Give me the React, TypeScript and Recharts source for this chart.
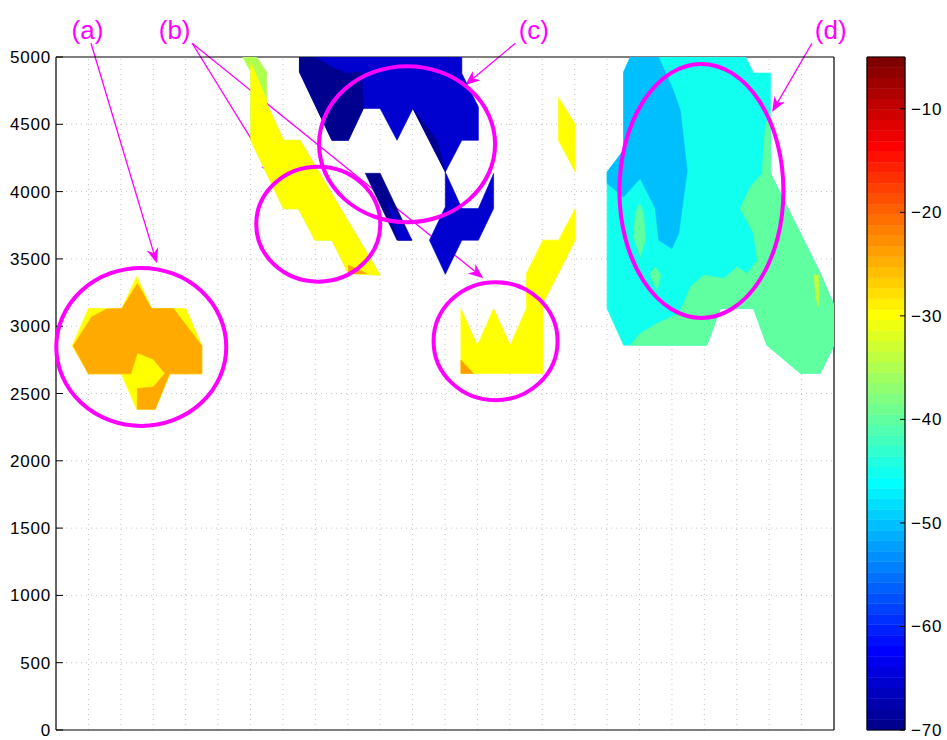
import React from 'react';
import { ComposedChart, Scatter, XAxis, YAxis, ReferenceLine, ReferenceDot, ReferenceArea } from 'recharts';

type Pt = { x: number; y: number };

const xTicks = [0, 1, 2, 3, 4, 5, 6, 7, 8, 9, 10, 11, 12, 13, 14, 15, 16, 17, 18, 19, 20, 21, 22, 23, 24];
const yTicks = [0, 500, 1000, 1500, 2000, 2500, 3000, 3500, 4000, 4500, 5000];
const cbarTicks = [-70, -60, -50, -40, -30, -20, -10];
const cbarMin = -70;
const cbarMax = -5;
const cbarLevels = 64;
const cbarCorners: Pt[] = [
  { x: 0, y: -70 },
  { x: 1, y: -5 },
];

// (a) blob
const aYellow: Pt[] = [
  { x: 2.49, y: 3371 }, { x: 2.95, y: 3131 }, { x: 4.01, y: 3131 }, { x: 4.5, y: 2854 }, { x: 4.5, y: 2646 },
  { x: 3.52, y: 2646 }, { x: 3.06, y: 2383 }, { x: 2.49, y: 2383 }, { x: 2.01, y: 2646 }, { x: 1.0, y: 2646 },
  { x: 0.5, y: 2854 }, { x: 1.0, y: 3131 }, { x: 2.03, y: 3131 },
];
const aOrange: Pt[] = [
  { x: 2.51, y: 3317 }, { x: 2.95, y: 3131 }, { x: 3.62, y: 3131 }, { x: 4.5, y: 2854 }, { x: 4.5, y: 2646 },
  { x: 3.5, y: 2646 }, { x: 3.06, y: 2383 }, { x: 2.51, y: 2383 }, { x: 2.51, y: 2537 }, { x: 3.0, y: 2549 },
  { x: 3.36, y: 2649 }, { x: 3.0, y: 2755 }, { x: 2.51, y: 2802 }, { x: 2.31, y: 2646 }, { x: 1.0, y: 2646 },
  { x: 0.53, y: 2854 }, { x: 1.1, y: 3069 }, { x: 1.56, y: 3128 }, { x: 2.03, y: 3131 },
];

// (b) diagonal band
const bGreen: Pt[] = [
  { x: 5.76, y: 5000 }, { x: 6.19, y: 5000 }, { x: 6.5, y: 4888 }, { x: 6.5, y: 4654 }, { x: 7.02, y: 4381 },
  { x: 7.53, y: 4381 }, { x: 10.0, y: 3379 }, { x: 9.02, y: 3391 }, { x: 8.51, y: 3639 }, { x: 7.99, y: 3639 },
  { x: 7.48, y: 3872 }, { x: 7.02, y: 3872 }, { x: 6.01, y: 4381 }, { x: 6.01, y: 4888 },
];
const bYellow: Pt[] = [
  { x: 6.01, y: 4960 }, { x: 6.5, y: 4683 }, { x: 6.5, y: 4654 }, { x: 7.02, y: 4381 }, { x: 7.53, y: 4381 },
  { x: 10.0, y: 3379 }, { x: 9.02, y: 3391 }, { x: 8.51, y: 3639 }, { x: 7.99, y: 3639 }, { x: 7.48, y: 3872 },
  { x: 7.02, y: 3872 }, { x: 6.01, y: 4381 },
];
const bOrange: Pt[] = [{ x: 9.02, y: 3453 }, { x: 9.59, y: 3391 }, { x: 9.02, y: 3391 }];

// (b) crown and strip
const crownYellow: Pt[] = [
  { x: 12.49, y: 2649 }, { x: 12.49, y: 3131 }, { x: 13.0, y: 2859 }, { x: 13.5, y: 3131 }, { x: 14.01, y: 2859 },
  { x: 14.51, y: 3131 }, { x: 14.51, y: 3391 }, { x: 15.02, y: 3639 }, { x: 15.5, y: 3639 }, { x: 16.02, y: 3874 },
  { x: 16.02, y: 3639 }, { x: 15.02, y: 3169 }, { x: 15.02, y: 2649 },
];
const crownOrange: Pt[] = [{ x: 12.49, y: 2748 }, { x: 12.88, y: 2649 }, { x: 12.49, y: 2649 }];
const stripYellow: Pt[] = [{ x: 15.5, y: 4700 }, { x: 16.02, y: 4500 }, { x: 16.02, y: 4144 }, { x: 15.5, y: 4381 }];

// (c) blue patches
const cBlue: Pt[] = [
  { x: 7.51, y: 5000 }, { x: 12.52, y: 5000 }, { x: 12.52, y: 4877 }, { x: 13.03, y: 4629 }, { x: 13.03, y: 4381 },
  { x: 12.52, y: 4381 }, { x: 12.01, y: 4146 }, { x: 11.01, y: 4617 }, { x: 10.52, y: 4381 }, { x: 10.0, y: 4617 },
  { x: 9.48, y: 4617 }, { x: 9.02, y: 4381 }, { x: 8.51, y: 4381 }, { x: 7.51, y: 4888 },
];
const cNavy: Pt[] = [
  { x: 7.51, y: 5000 }, { x: 7.99, y: 5000 }, { x: 8.51, y: 4926 }, { x: 8.97, y: 4877 }, { x: 9.43, y: 4888 },
  { x: 9.48, y: 4617 }, { x: 9.02, y: 4381 }, { x: 8.51, y: 4381 }, { x: 7.51, y: 4888 },
];
const cNavySliver: Pt[] = [{ x: 11.01, y: 4617 }, { x: 11.75, y: 4381 }, { x: 12.01, y: 4146 }];
const cBarNavy: Pt[] = [{ x: 9.54, y: 4136 }, { x: 10.0, y: 4136 }, { x: 10.98, y: 3639 }, { x: 10.52, y: 3639 }];
const cBarBlue: Pt[] = [{ x: 10.21, y: 3935 }, { x: 10.98, y: 3639 }, { x: 10.56, y: 3639 }];
const cLowBlue: Pt[] = [
  { x: 12.01, y: 4146 }, { x: 12.52, y: 3874 }, { x: 13.03, y: 3874 }, { x: 13.5, y: 4134 }, { x: 13.5, y: 3874 },
  { x: 13.03, y: 3639 }, { x: 12.52, y: 3639 }, { x: 12.01, y: 3386 }, { x: 11.52, y: 3639 }, { x: 12.01, y: 3886 },
];

// (d) cyan / green area
const dCyan: Pt[] = [
  { x: 17.72, y: 5000 }, { x: 21.27, y: 5000 }, { x: 21.52, y: 4881 }, { x: 22.04, y: 4881 }, { x: 22.04, y: 4134 },
  { x: 23.58, y: 3391 }, { x: 24, y: 3156 }, { x: 24, y: 2859 }, { x: 23.58, y: 2651 }, { x: 22.96, y: 2651 },
  { x: 21.93, y: 2859 }, { x: 21.52, y: 3131 }, { x: 20.49, y: 3131 }, { x: 20.08, y: 2859 }, { x: 17.51, y: 2859 },
  { x: 17.0, y: 3131 }, { x: 17.0, y: 4146 }, { x: 17.51, y: 4307 }, { x: 17.51, y: 4888 },
];
const dSky: Pt[] = [
  { x: 17.72, y: 5000 }, { x: 18.59, y: 5000 }, { x: 19.05, y: 4750 }, { x: 19.26, y: 4602 }, { x: 19.47, y: 4156 },
  { x: 19.36, y: 3958 }, { x: 19.21, y: 3688 }, { x: 19.0, y: 3577 }, { x: 18.59, y: 3639 }, { x: 18.49, y: 3874 },
  { x: 18.02, y: 4097 }, { x: 17.51, y: 3960 }, { x: 17.0, y: 4062 }, { x: 17.0, y: 4146 }, { x: 17.51, y: 4307 },
  { x: 17.51, y: 4888 },
];
const dGreen: Pt[] = [
  { x: 22.04, y: 4604 }, { x: 21.88, y: 4480 }, { x: 21.78, y: 4134 }, { x: 21.42, y: 4035 }, { x: 21.11, y: 3874 },
  { x: 21.52, y: 3689 }, { x: 21.63, y: 3490 }, { x: 21.32, y: 3391 }, { x: 21.01, y: 3440 }, { x: 20.6, y: 3354 },
  { x: 19.98, y: 3379 }, { x: 19.57, y: 3292 }, { x: 19.36, y: 3169 }, { x: 19.21, y: 3095 }, { x: 18.54, y: 3020 },
  { x: 18.02, y: 2946 }, { x: 17.72, y: 2859 }, { x: 20.08, y: 2859 }, { x: 20.49, y: 3131 }, { x: 21.52, y: 3131 },
  { x: 21.93, y: 2859 }, { x: 22.96, y: 2651 }, { x: 23.58, y: 2651 }, { x: 24, y: 2859 }, { x: 24, y: 3156 },
  { x: 23.58, y: 3391 }, { x: 22.04, y: 4134 },
];
const dGreenSpot1: Pt[] = [
  { x: 18.0, y: 3911 }, { x: 18.13, y: 3837 }, { x: 18.18, y: 3639 }, { x: 18.02, y: 3515 }, { x: 17.82, y: 3663 },
  { x: 17.87, y: 3837 },
];
const dGreenSpot2: Pt[] = [
  { x: 18.33, y: 3391 }, { x: 18.49, y: 3440 }, { x: 18.66, y: 3379 }, { x: 18.54, y: 3267 }, { x: 18.39, y: 3342 },
];
const dLime: Pt[] = [{ x: 23.38, y: 3379 }, { x: 23.53, y: 3379 }, { x: 23.53, y: 3144 }, { x: 23.45, y: 3200 }];

const regions: { pts: Pt[]; color: string }[] = [
  { pts: aYellow, color: '#FFFF00' },
  { pts: aOrange, color: '#FFAA00' },
  { pts: bGreen, color: '#AFFF50' },
  { pts: bYellow, color: '#FFFF00' },
  { pts: bOrange, color: '#FFA000' },
  { pts: crownYellow, color: '#FFFF00' },
  { pts: crownOrange, color: '#FFA000' },
  { pts: stripYellow, color: '#FFFF00' },
  { pts: cBlue, color: '#0000CF' },
  { pts: cNavy, color: '#00008F' },
  { pts: cNavySliver, color: '#00008F' },
  { pts: cBarNavy, color: '#00008F' },
  { pts: cBarBlue, color: '#0000CF' },
  { pts: cLowBlue, color: '#0000CF' },
  { pts: dCyan, color: '#10FFEF' },
  { pts: dSky, color: '#00BFFF' },
  { pts: dGreen, color: '#60FF9F' },
  { pts: dGreenSpot1, color: '#60FF9F' },
  { pts: dGreenSpot2, color: '#60FF9F' },
  { pts: dLime, color: '#BFFF40' },
];

// annotations
const labels = [
  { text: '(a)', x: 0.97, y: 5198 },
  { text: '(b)', x: 3.66, y: 5198 },
  { text: '(c)', x: 14.74, y: 5198 },
  { text: '(d)', x: 23.9, y: 5198 },
];
const arrows = [
  { x1: 1.08, y1: 5102, x2: 3.11, y2: 3468 },
  { x1: 4.2, y1: 5102, x2: 6.73, y2: 4114 },
  { x1: 4.2, y1: 5102, x2: 13.18, y2: 3357 },
  { x1: 14.17, y1: 5102, x2: 12.62, y2: 4790 },
  { x1: 23.32, y1: 5102, x2: 22.09, y2: 4592 },
];
const ellipses = [
  { x: 2.63, y: 2846, rx: 85, ry: 79 },
  { x: 8.09, y: 3758, rx: 62, ry: 57.5 },
  { x: 10.83, y: 4352, rx: 88, ry: 78 },
  { x: 13.56, y: 2889, rx: 62, ry: 59 },
  { x: 19.91, y: 4005, rx: 82, ry: 127 },
];

const MAGENTA = '#FF00FF';
const FONT = 'Liberation Sans, Arial, Helvetica, sans-serif';
const AXIS_LINE = { stroke: '#000', strokeWidth: 1.2 };

const jet = (i: number) => {
  const t = (i + 1) / cbarLevels;
  const c = (v: number) => Math.round(255 * Math.max(0, Math.min(1, v)));
  const r = c(Math.min(4 * t - 1.5, -4 * t + 4.5));
  const g = c(Math.min(4 * t - 0.5, -4 * t + 3.5));
  const b = c(Math.min(4 * t + 0.5, -4 * t + 2.5));
  return `rgb(${r},${g},${b})`;
};

const NoPoint = () => <g />;

const polyLine = (color: string) => (p: any) => (
  <path
    d={'M' + p.points.map((q: any) => `${q.x},${q.y}`).join('L') + 'Z'}
    fill={color}
    stroke={color}
    strokeWidth={0.6}
  />
);

const ArrowShape = (p: any) => {
  const { x1, y1, x2, y2 } = p;
  const len = Math.hypot(x2 - x1, y2 - y1);
  const dx = (x2 - x1) / len;
  const dy = (y2 - y1) / len;
  const L = 15;
  const W = 6;
  const bx = x2 - dx * L;
  const by = y2 - dy * L;
  const nx = x2 - dx * L * 0.7;
  const ny = y2 - dy * L * 0.7;
  return (
    <g>
      <line x1={x1} y1={y1} x2={nx} y2={ny} stroke={MAGENTA} strokeWidth={1.3} />
      <path
        d={`M${x2},${y2}L${bx - dy * W},${by + dx * W}L${nx},${ny}L${bx + dy * W},${by - dx * W}Z`}
        fill={MAGENTA}
      />
    </g>
  );
};

const YTick = (props: any) => {
  const { x, y, payload } = props;
  return (
    <text x={x} y={y} dy={6} textAnchor="end" fontSize={17} fontFamily={FONT} fill="#000" letterSpacing={0.8}>
      {payload.value}
    </text>
  );
};

const CbarTick = (props: any) => {
  const { x, y, payload } = props;
  return (
    <text x={x} y={y} dy={6} textAnchor="start" fontSize={17} fontFamily={FONT} fill="#000" letterSpacing={0.8}>
      {String(payload.value).replace('-', '\u2212')}
    </text>
  );
};

const step = (cbarMax - cbarMin) / cbarLevels;
const levels = Array.from({ length: cbarLevels }, (_, i) => i);

export default function App() {
  return (
    <div style={{ position: 'absolute', left: 0, top: 0, width: 947, height: 740, background: '#fff', fontFamily: FONT }}>
      <div style={{ position: 'absolute', left: 0, top: 0 }}>
        <ComposedChart width={947} height={740} margin={{ top: 56, right: 112, bottom: 9, left: 6 }}>
          <XAxis
            dataKey="x"
            type="number"
            domain={[0, 24]}
            ticks={xTicks}
            allowDataOverflow
            height={1}
            tick={false}
            tickSize={-7}
            axisLine={AXIS_LINE}
            tickLine={{ stroke: '#000' }}
          />
          <XAxis
            xAxisId="t"
            orientation="top"
            type="number"
            domain={[0, 24]}
            ticks={xTicks}
            allowDataOverflow
            height={1}
            tick={false}
            tickSize={-7}
            axisLine={AXIS_LINE}
            tickLine={{ stroke: '#000' }}
          />
          <YAxis
            dataKey="y"
            type="number"
            domain={[0, 5000]}
            ticks={yTicks}
            allowDataOverflow
            width={50}
            tick={<YTick />}
            tickSize={-7}
            tickMargin={12}
            axisLine={AXIS_LINE}
            tickLine={{ stroke: '#000' }}
          />
          <YAxis
            yAxisId="r"
            orientation="right"
            type="number"
            domain={[0, 5000]}
            ticks={yTicks}
            allowDataOverflow
            width={1}
            tick={false}
            tickSize={-7}
            axisLine={AXIS_LINE}
            tickLine={{ stroke: '#000' }}
          />
          {regions.map((r, i) => (
            <Scatter
              key={`reg-${i}`}
              data={r.pts}
              fill={r.color}
              line={polyLine(r.color)}
              shape={NoPoint}
              legendType="none"
              isAnimationActive={false}
            />
          ))}
          {xTicks.slice(1, -1).map((v) => (
            <ReferenceLine key={`gx-${v}`} x={v} stroke="#c4c4c4" strokeDasharray="1 4" strokeWidth={1} />
          ))}
          {yTicks.slice(1, -1).map((v) => (
            <ReferenceLine key={`gy-${v}`} y={v} stroke="#c4c4c4" strokeDasharray="1 4" strokeWidth={1} />
          ))}
          {ellipses.map((e, i) => (
            <ReferenceDot
              key={`el-${i}`}
              x={e.x}
              y={e.y}
              ifOverflow="visible"
              shape={(p: any) => (
                <ellipse cx={p.cx} cy={p.cy} rx={e.rx} ry={e.ry} fill="none" stroke={MAGENTA} strokeWidth={4} />
              )}
            />
          ))}
          {arrows.map((a, i) => (
            <ReferenceLine
              key={`ar-${i}`}
              segment={[
                { x: a.x1, y: a.y1 },
                { x: a.x2, y: a.y2 },
              ]}
              ifOverflow="visible"
              shape={ArrowShape}
            />
          ))}
          {labels.map((l, i) => (
            <ReferenceDot
              key={`lb-${i}`}
              x={l.x}
              y={l.y}
              ifOverflow="visible"
              shape={(p: any) => (
                <text
                  x={p.cx}
                  y={p.cy}
                  dy={9}
                  textAnchor="middle"
                  fontSize={26}
                  fontFamily={FONT}
                  fill={MAGENTA}
                >
                  {l.text}
                </text>
              )}
            />
          ))}
        </ComposedChart>
      </div>
      <div style={{ position: 'absolute', left: 860, top: 0 }}>
        <ComposedChart width={87} height={740} margin={{ top: 56, right: 41, bottom: 9, left: 6 }}>
          <XAxis
            dataKey="x"
            type="number"
            domain={[0, 1]}
            allowDataOverflow
            height={1}
            tick={false}
            tickLine={false}
            axisLine={AXIS_LINE}
          />
          <XAxis
            xAxisId="t"
            orientation="top"
            type="number"
            domain={[0, 1]}
            allowDataOverflow
            height={1}
            tick={false}
            tickLine={false}
            axisLine={AXIS_LINE}
          />
          <YAxis
            dataKey="y"
            orientation="right"
            type="number"
            domain={[cbarMin, cbarMax]}
            ticks={cbarTicks}
            allowDataOverflow
            width={1}
            tick={<CbarTick />}
            tickSize={-5}
            tickMargin={11}
            axisLine={AXIS_LINE}
            tickLine={{ stroke: '#000' }}
          />
          <YAxis
            yAxisId="l"
            orientation="left"
            type="number"
            domain={[cbarMin, cbarMax]}
            ticks={cbarTicks}
            allowDataOverflow
            width={1}
            tick={false}
            tickSize={-5}
            axisLine={AXIS_LINE}
            tickLine={{ stroke: '#000' }}
          />
          <Scatter data={cbarCorners} fill="none" shape={NoPoint} legendType="none" isAnimationActive={false} />
          {levels.map((i) => (
            <ReferenceArea
              key={`cb-${i}`}
              x1={0}
              x2={1}
              y1={cbarMin + i * step}
              y2={cbarMin + (i + 1) * step}
              fill={jet(i)}
              fillOpacity={1}
              stroke={jet(i)}
              strokeWidth={0.5}
            />
          ))}
        </ComposedChart>
      </div>
    </div>
  );
}
